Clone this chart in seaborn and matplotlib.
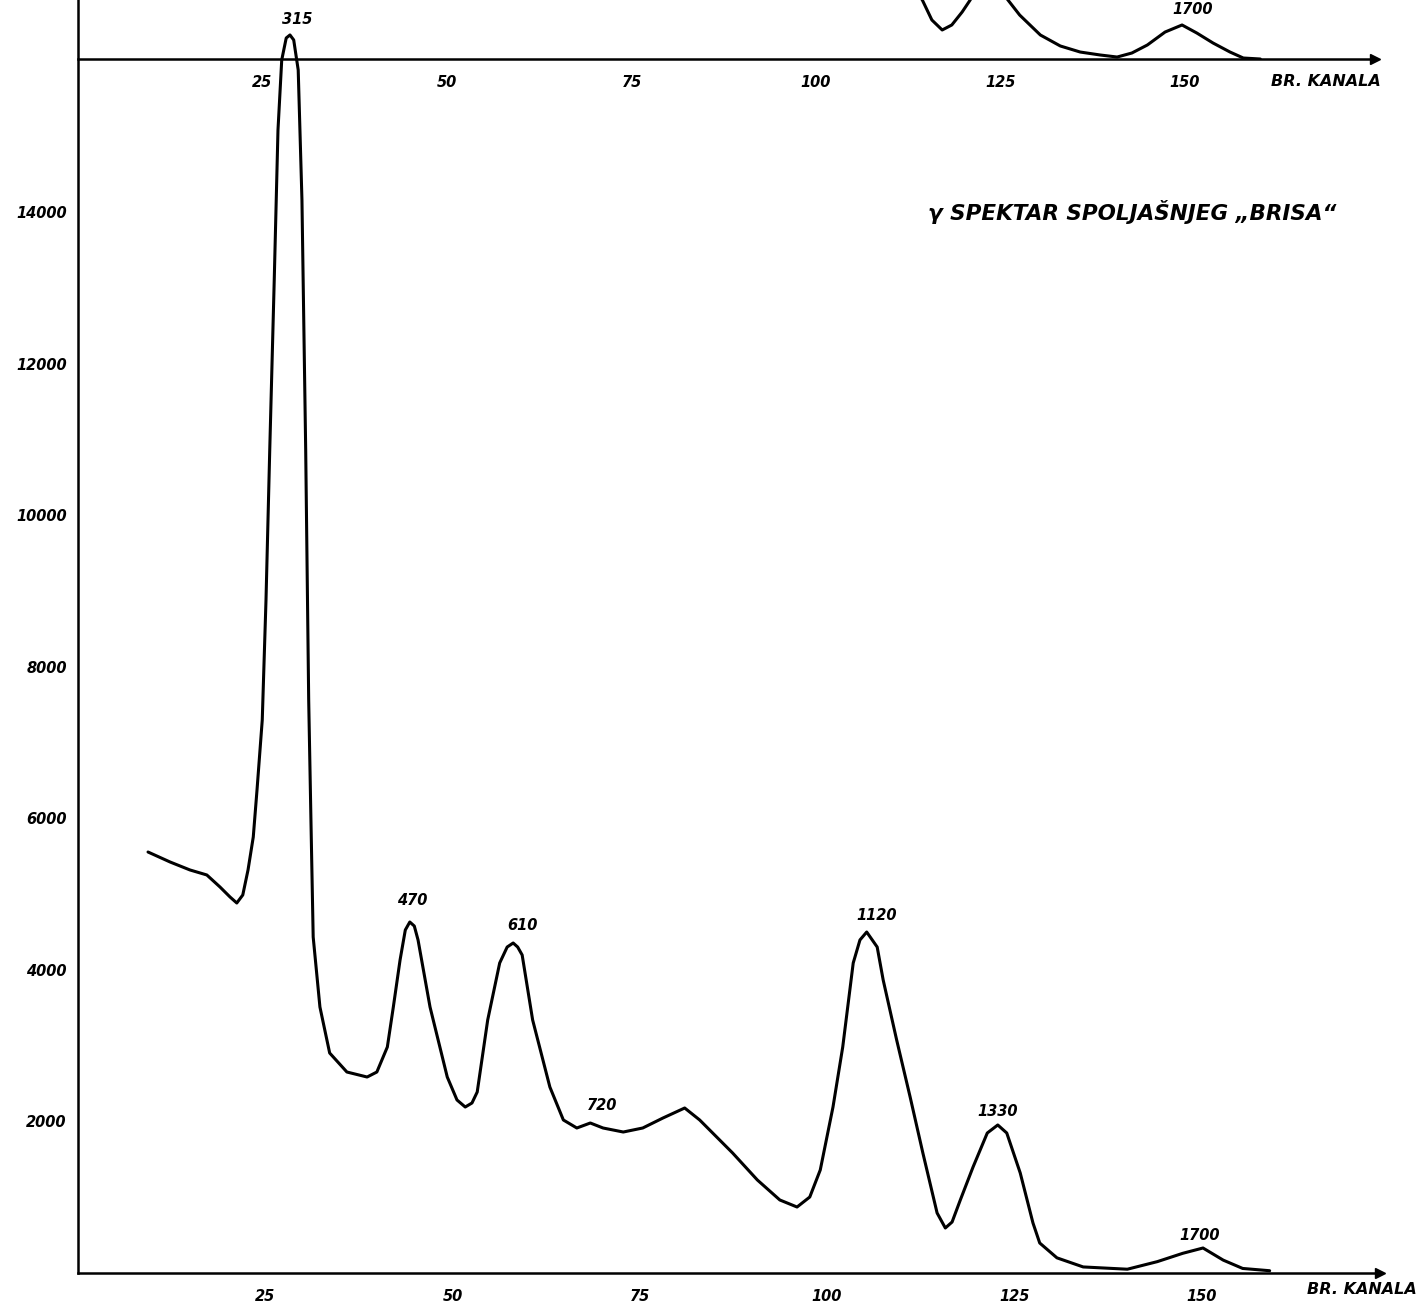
import numpy as np
import pandas as pd
import matplotlib
matplotlib.use("Agg")
import matplotlib.pyplot as plt
import seaborn as sns

# ---------------- data ----------------
channel = [9.35, 12.3, 14.95, 17.2, 18.96, 20.3, 21.2, 22.0, 22.7, 23.4, 23.9, 24.6,
           25.1, 25.6, 26.2, 26.7, 27.2, 27.8, 28.3, 28.8, 29.4, 29.9, 30.4, 30.8,
           31.1, 31.4, 32.3, 33.6, 35.9, 38.6, 39.9, 41.3, 42.1, 43.0, 43.7, 44.3,
           44.9, 45.4, 47.0, 49.3, 50.6, 51.7, 52.6, 53.3, 54.7, 56.3, 57.3, 58.1,
           58.7, 59.3, 60.7, 63.0, 64.8, 66.6, 68.4, 70.1, 72.8, 75.4, 78.1, 81.0,
           83.0, 87.4, 90.7, 93.7, 96.0, 97.7, 99.1, 100.8, 102.1, 103.5, 104.4, 105.3,
           106.7, 107.5, 109.3, 111.1, 112.8, 114.7, 115.8, 116.7, 117.8, 119.5, 121.4, 122.8,
           124.0, 125.8, 127.5, 128.4, 130.7, 134.2, 140.1, 144.1, 147.5, 150.2, 152.9, 155.5,
           159.1]
counts = [5557, 5425, 5320, 5254, 5095, 4963, 4884, 4990, 5320, 5755, 6376, 7300,
          8884, 10864, 13108, 15088, 16012, 16302, 16342, 16276, 15880, 14164, 10864, 7564,
          5980, 4435, 3511, 2904, 2653, 2587, 2653, 2983, 3511, 4132, 4528, 4633,
          4580, 4396, 3511, 2587, 2284, 2191, 2244, 2389, 3340, 4092, 4303, 4356,
          4303, 4198, 3340, 2455, 2020, 1914, 1980, 1914, 1861, 1914, 2046, 2178,
          2020, 1584, 1228, 964, 871, 1003, 1360, 2191, 2983, 4092, 4396, 4501,
          4303, 3868, 3076, 2323, 1584, 792, 594, 673, 964, 1399, 1848, 1954,
          1848, 1320, 660, 396, 200, 80, 50, 150, 260, 330, 170, 60,
          30]

# fragment of the preceding spectrum visible at the top of the sheet
top_channel = [113.4, 114.4, 115.7, 117.1, 118.4, 119.8, 120.9, 121.5, 122.9, 125.0,
               126.0, 127.6, 130.4, 133.1, 135.8, 138.5, 140.8, 142.8, 144.9, 147.3,
               149.6, 151.6, 153.8, 156.1, 157.9, 160.2]
top_counts = [910, 780, 515, 383, 449, 620, 780, 910, 1300, 910,
              780, 580, 317, 172, 92, 53, 26, 79, 185, 356,
              449, 343, 211, 92, 13, 0]

peak_labels = ["315", "470", "610", "720", "1120", "1330", "1700"]
peak_channel = [28.3, 44.3, 58.1, 68.4, 105.3, 122.8, 150.2]
peak_counts = [16342, 4633, 4356, 1980, 4501, 1954, 330]
top_peak_label = ["1700"]
top_peak_channel = [149.6]
top_peak_counts = [449]

x_ticks = [25, 50, 75, 100, 125, 150]
y_ticks = [2000, 4000, 6000, 8000, 10000, 12000, 14000]
y_tick_labels = ["2000", "4000", "6000", "8000", "10000", "12000", "14000"]
x_label = "BR. KANALA"
title = "γ SPEKTAR SPOLJAŠNJEG „BRISA“"

# ---------------- style ----------------
sns.set_style("white")
plt.rcParams["font.family"] = ["DejaVu Sans"]
plt.rcParams["text.color"] = "black"
plt.rcParams["xtick.color"] = "black"
plt.rcParams["ytick.color"] = "black"
plt.rcParams["xtick.labelcolor"] = "black"
plt.rcParams["ytick.labelcolor"] = "black"

W, H = 1421, 1303
fig = plt.figure(figsize=(W / 100, H / 100), dpi=100)

# pixel geometry
x0, x_right, y_axis_px = 78, 1380, 1273
px_per_ch = 7.49
cnt_per_px = 13.2

ax = fig.add_axes([x0 / W, (H - y_axis_px) / H, (x_right - x0) / W, y_axis_px / H])
ax.set_xlim(0, (x_right - x0) / px_per_ch)
ax.set_ylim(0, y_axis_px * cnt_per_px)
ax.patch.set_alpha(0)

df = pd.DataFrame({"channel": channel, "counts": counts})
sns.lineplot(data=df, x="channel", y="counts", ax=ax, color="black", lw=2.2,
             sort=False, estimator=None)
for ln in ax.get_lines():
    ln.set_solid_joinstyle("round")
    ln.set_solid_capstyle("round")

for s in ["top", "right"]:
    ax.spines[s].set_visible(False)
for s in ["left", "bottom"]:
    ax.spines[s].set_linewidth(1.8)
    ax.spines[s].set_color("black")

lab_font = dict(fontsize=10.5, fontweight="bold", fontstyle="italic", color="black")
ax.set_xticks(x_ticks)
ax.set_xticklabels([str(t) for t in x_ticks], **lab_font)
ax.set_yticks(y_ticks)
ax.set_yticklabels(y_tick_labels, **lab_font)
ax.tick_params(axis="x", direction="inout", length=5, width=1.5, pad=9)
ax.tick_params(axis="y", length=0, pad=8)
ax.set_xlabel("")
ax.set_ylabel("")
ax.plot(1, 0, ">k", transform=ax.get_yaxis_transform(), clip_on=False, markersize=7)
ax.text(1417 / W, 1 - 1290 / H, x_label, transform=fig.transFigure, ha="right", va="center",
        fontsize=11.5, fontweight="bold", fontstyle="italic", color="black")

label_offsets = [(7, 15), (2, 22), (9, 18), (12, 18), (10, 17), (0, 13), (-3, 13)]
for lab, cx, cy, (dx, dy) in zip(peak_labels, peak_channel, peak_counts, label_offsets):
    ax.annotate(lab, (cx, cy), xytext=(dx * 0.72, dy * 0.72), textcoords="offset points",
                ha="center", va="center", fontsize=10.5, fontstyle="italic",
                fontweight="bold", color="black")

ax.text(928 / W, 1 - 212 / H, title, transform=fig.transFigure, ha="left", va="center",
        fontsize=15.5, fontstyle="italic", fontweight="bold", color="black")

# top fragment
top_axis_px = 59
top_right = 1375
top_px_per_ch = 7.38
tax = fig.add_axes([x0 / W, (H - top_axis_px) / H, (top_right - x0) / W, top_axis_px / H])
tax.set_xlim(0, (top_right - x0) / top_px_per_ch)
tax.set_ylim(0, top_axis_px * cnt_per_px)
tax.patch.set_alpha(0)
tdf = pd.DataFrame({"channel": top_channel, "counts": top_counts})
sns.lineplot(data=tdf, x="channel", y="counts", ax=tax, color="black", lw=2.2,
             sort=False, estimator=None)
for ln in tax.get_lines():
    ln.set_solid_joinstyle("round")
for s in ["top", "right", "left"]:
    tax.spines[s].set_visible(False)
tax.spines["bottom"].set_linewidth(1.8)
tax.spines["bottom"].set_color("black")
tax.set_xticks(x_ticks)
tax.set_xticklabels([str(t) for t in x_ticks], **lab_font)
tax.set_yticks([])
tax.tick_params(axis="x", direction="inout", length=5, width=1.5, pad=9)
tax.set_xlabel("")
tax.set_ylabel("")
tax.plot(1, 0, ">k", transform=tax.get_yaxis_transform(), clip_on=False, markersize=7)
tax.text(1381 / W, 1 - 82 / H, x_label, transform=fig.transFigure, ha="right", va="center",
         fontsize=11.5, fontweight="bold", fontstyle="italic", color="black")
for lab, cx, cy in zip(top_peak_label, top_peak_channel, top_peak_counts):
    tax.annotate(lab, (cx, cy), xytext=(11 * 0.72, 15 * 0.72), textcoords="offset points",
                 ha="center", va="center", fontsize=10.5, fontstyle="italic",
                 fontweight="bold", annotation_clip=False, color="black")

fig.savefig("out.png", dpi=100)
